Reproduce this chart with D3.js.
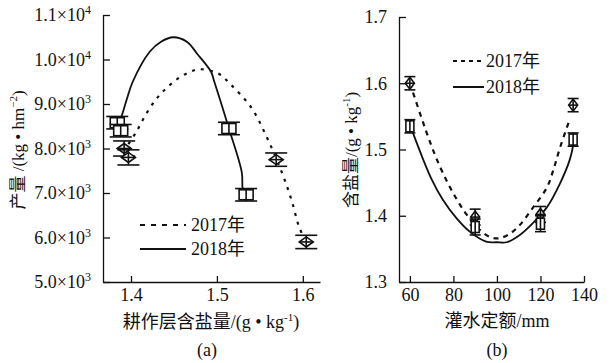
<!DOCTYPE html>
<html>
<head>
<meta charset="utf-8">
<script src="https://cdn.jsdelivr.net/npm/d3@7"></script>
<style>
  body { margin: 0; background: #fff; }
  text { font-family: "Liberation Serif", "Noto Sans CJK SC", serif; fill: #111; }
</style>
</head>
<body>
<svg id="chart" width="611" height="363"></svg>
<script>
// ---- panel (a): yield vs salt content ----
const a2017X = [1.397, 1.407, 1.418, 1.431, 1.441, 1.453, 1.465, 1.479, 1.501, 1.516, 1.540, 1.561, 1.577, 1.587, 1.596, 1.604];
const a2017Y = [8100, 8400, 8790, 9150, 9350, 9550, 9690, 9780, 9690, 9440, 8920, 8130, 7390, 6830, 6220, 5900];
const a2018X = [1.384, 1.388, 1.395, 1.402, 1.422, 1.435, 1.449, 1.465, 1.477, 1.493, 1.497, 1.514, 1.529, 1.530, 1.533];
const a2018Y = [8520, 8670, 9100, 9500, 10180, 10400, 10500, 10400, 10130, 9730, 9500, 8450, 7460, 7100, 6960];
const aMark2017 = [[1.392, 8000], [1.397, 7800], [1.569, 7750], [1.604, 5900]];
const aMark2018 = [[1.384, 8580], [1.388, 8400], [1.514, 8450], [1.534, 6960]];
const aErr2017 = [170, 170, 150, 150];
const aErr2018 = [140, 140, 140, 140];
const aYTicks = [5000, 6000, 7000, 8000, 9000, 10000, 11000];
const aYTickLabels = [["5.0×10", "3"], ["6.0×10", "3"], ["7.0×10", "3"], ["8.0×10", "3"], ["9.0×10", "3"], ["1.0×10", "4"], ["1.1×10", "4"]];
const aXTicks = [1.4, 1.5, 1.6];

// ---- panel (b): salt content vs irrigation quota ----
const b2017X = [60, 64.6, 68.3, 72, 77, 81.5, 86, 91, 96.7, 101, 106, 110.5, 116.5, 123, 126, 129, 133.4];
const b2017Y = [1.600, 1.555, 1.520, 1.488, 1.452, 1.425, 1.402, 1.382, 1.368, 1.366, 1.373, 1.386, 1.412, 1.443, 1.470, 1.503, 1.545];
const b2018X = [61.4, 65.5, 70, 75, 81.5, 87.5, 95, 100, 104.5, 110.5, 116.5, 123, 129, 133.4, 135];
const b2018Y = [1.525, 1.490, 1.455, 1.425, 1.396, 1.376, 1.361, 1.360, 1.360, 1.371, 1.389, 1.413, 1.449, 1.484, 1.506];
const bMark2017 = [[60, 1.600], [90, 1.398], [120, 1.402], [135, 1.567]];
const bMark2018 = [[60, 1.535], [90, 1.383], [120, 1.388], [135, 1.515]];
const bErr2017 = [0.010, 0.012, 0.012, 0.010];
const bErr2018 = [0.010, 0.012, 0.012, 0.010];
const bYTicks = [1.3, 1.4, 1.5, 1.6, 1.7];
const bXTicks = [60, 80, 100, 120, 140];

const legendLabels = ["2017年", "2018年"];

const svg = d3.select("#chart");
const SERIF = '"Liberation Serif", "Noto Sans CJK SC", serif';

// scales
const xa = d3.scaleLinear().domain([1.3674, 1.62]).range([103, 320]);
const ya = d3.scaleLinear().domain([5000, 11000]).range([282, 15]);
const xb = d3.scaleLinear().domain([55, 140]).range([399, 584]);
const yb = d3.scaleLinear().domain([1.3, 1.7]).range([282, 17]);

function drawAxes(g, x, y, xt, yt, yFmt) {
  const xAxis = g.append("g").attr("transform", `translate(0,${y.range()[0]})`)
    .call(d3.axisBottom(x).tickValues(xt).tickSizeInner(-6).tickSizeOuter(0).tickPadding(6).tickFormat(d3.format("")));
  const yAxis = g.append("g").attr("transform", `translate(${x.range()[0]},0)`)
    .call(d3.axisLeft(y).tickValues(yt).tickSizeInner(-7).tickSizeOuter(0).tickPadding(12).tickFormat(yFmt));
  [xAxis, yAxis].forEach(ax => {
    ax.attr("font-family", null);
    ax.selectAll("path, line").attr("stroke", "#111").attr("stroke-width", 1.3);
    ax.selectAll("text").style("font-family", SERIF).style("font-size", "18px").attr("fill", "#111");
  });
  return yAxis;
}

function drawMarkers(g, x, y, pts, errs, shape, mw, mh, cw) {
  pts.forEach((p, i) => {
    const cx = x(p[0]), cy = y(p[1]);
    const t = y(p[1] + errs[i]), b = y(p[1] - errs[i]);
    const mg = g.append("g").attr("stroke", "#111").attr("stroke-width", 1.6).attr("fill", "none");
    if (shape === "sq") {
      mg.append("rect").attr("x", cx - mw / 2).attr("y", cy - mh / 2).attr("width", mw).attr("height", mh).attr("fill", "#fff");
    } else {
      mg.append("path").attr("d", `M${cx - mw / 2},${cy}L${cx},${cy - mh / 2}L${cx + mw / 2},${cy}L${cx},${cy + mh / 2}Z`).attr("fill", "#fff");
      mg.append("line").attr("x1", cx - mw / 2).attr("x2", cx + mw / 2).attr("y1", cy).attr("y2", cy);
    }
    mg.append("line").attr("x1", cx).attr("x2", cx).attr("y1", t).attr("y2", b);
    mg.append("line").attr("x1", cx - cw / 2).attr("x2", cx + cw / 2).attr("y1", t).attr("y2", t);
    mg.append("line").attr("x1", cx - cw / 2).attr("x2", cx + cw / 2).attr("y1", b).attr("y2", b);
  });
}

function drawCurve(g, x, y, xs, ys, dash, w) {
  const line = d3.line().x(d => x(d[0])).y(d => y(d[1])).curve(d3.curveCatmullRom.alpha(0.5));
  g.append("path").datum(d3.zip(xs, ys)).attr("d", line)
    .attr("fill", "none").attr("stroke", "#111").attr("stroke-width", w)
    .attr("stroke-dasharray", dash);
}

function supLabel(g, attrs, main, sup, tail, size) {
  const t = g.append("text").attr("text-anchor", "middle").attr("font-size", size);
  Object.entries(attrs).forEach(([k, v]) => t.attr(k, v));
  t.append("tspan").text(main);
  t.append("tspan").attr("dy", -7).attr("font-size", 11).text(sup);
  t.append("tspan").attr("dy", 7).text(tail);
}

// ---------- panel (a) ----------
const ga = svg.append("g");
const yAxA = drawAxes(ga, xa, ya, aXTicks, aYTicks, () => "");
yAxA.selectAll(".tick text").each(function (d, i) {
  const t = d3.select(this);
  t.text(aYTickLabels[i][0]);
  t.append("tspan").attr("dy", -7).style("font-size", "12px").text(aYTickLabels[i][1]);
});
drawCurve(ga, xa, ya, a2017X, a2017Y, "3,6", 2.2);
drawCurve(ga, xa, ya, a2018X, a2018Y, null, 1.8);
drawMarkers(ga, xa, ya, aMark2017, aErr2017, "dm", 14, 10, 22);
drawMarkers(ga, xa, ya, aMark2018, aErr2018, "sq", 14, 10, 22);

supLabel(ga, { transform: "translate(24,150) rotate(-90)" }, "产量 /(kg • hm", "−2", ")", 17);
supLabel(ga, { x: 211, y: 328 }, "耕作层含盐量/(g • kg", "-1", ")", 18);
ga.append("text").attr("x", 207).attr("y", 356).attr("text-anchor", "middle").attr("font-size", 18).text("(a)");

// legend (a)
const lga = ga.append("g");
[[225, "5,6"], [249, null]].forEach((r, i) => {
  lga.append("line").attr("x1", 140).attr("x2", 186).attr("y1", r[0]).attr("y2", r[0])
    .attr("stroke", "#111").attr("stroke-width", 2).attr("stroke-dasharray", r[1]);
  lga.append("text").attr("x", 191).attr("y", r[0] + 6).attr("font-size", 18).text(legendLabels[i]);
});

// ---------- panel (b) ----------
const gb = svg.append("g");
drawAxes(gb, xb, yb, bXTicks, bYTicks, d3.format(".1f"));
drawCurve(gb, xb, yb, b2017X, b2017Y, "5,5", 2.2);
drawCurve(gb, xb, yb, b2018X, b2018Y, null, 1.8);
drawMarkers(gb, xb, yb, bMark2017, bErr2017, "dm", 9, 12, 11);
drawMarkers(gb, xb, yb, bMark2018, bErr2018, "sq", 8, 11, 11);

supLabel(gb, { transform: "translate(357,150) rotate(-90)" }, "含盐量/(g • kg", "-1", ")", 17);
gb.append("text").attr("x", 497).attr("y", 327).attr("text-anchor", "middle").attr("font-size", 18).text("灌水定额/mm");
gb.append("text").attr("x", 497).attr("y", 356).attr("text-anchor", "middle").attr("font-size", 18).text("(b)");

// legend (b)
const lgb = gb.append("g");
[[61, "4,4"], [87, null]].forEach((r, i) => {
  lgb.append("line").attr("x1", 453).attr("x2", 484).attr("y1", r[0]).attr("y2", r[0])
    .attr("stroke", "#111").attr("stroke-width", 2).attr("stroke-dasharray", r[1]);
  lgb.append("text").attr("x", 486).attr("y", r[0] + 6).attr("font-size", 18).text(legendLabels[i]);
});
</script>
</body>
</html>
